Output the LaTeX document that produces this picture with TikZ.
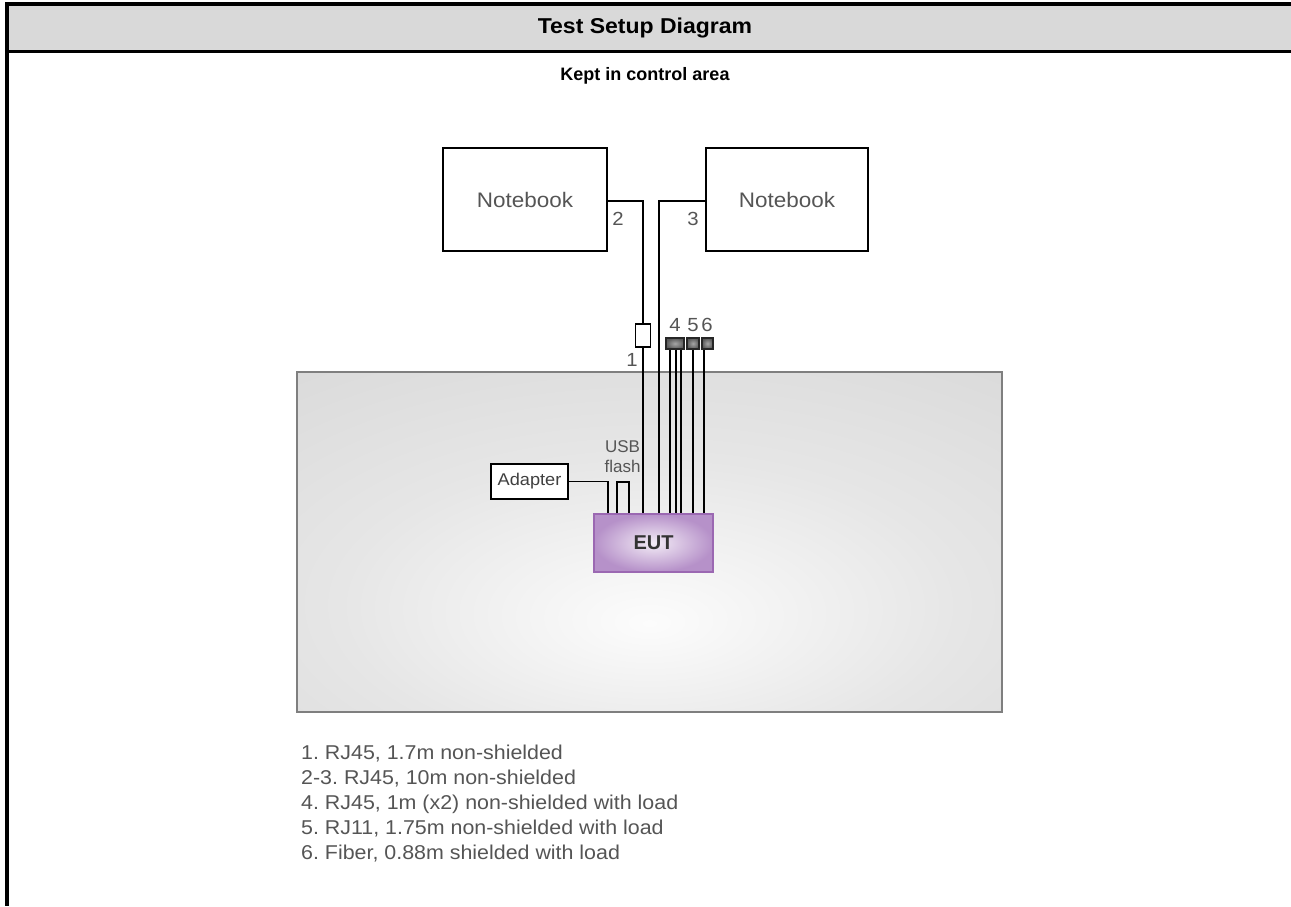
\documentclass[tikz,border=0pt]{standalone}
\usepackage{fontspec}
\setmainfont[FakeStretch=1.07]{Liberation Sans}
\newfontfamily\plainsans{Liberation Sans}
\frenchspacing
\definecolor{hdr}{HTML}{D9D9D9}
\definecolor{txtgray}{HTML}{555555}
\definecolor{eutin}{HTML}{F3ECF6}
\definecolor{eutout}{HTML}{B691C9}
\definecolor{eutborder}{HTML}{9B68B2}
\definecolor{boxborder}{HTML}{7F7F7F}
\definecolor{boxout}{HTML}{D2D2D2}
\definecolor{boxmid}{HTML}{E6E6E6}
\definecolor{boxin}{HTML}{FCFCFC}
\pgfdeclareradialshading{areashade}{\pgfpoint{0bp}{-12bp}}{color(0bp)=(boxin); color(22bp)=(boxmid); color(55bp)=(boxout); color(100bp)=(boxout)}
\begin{document}
\begin{tikzpicture}[x=1pt,y=-1pt,
  cable/.style={draw=black, line width=1.2pt},
  frameline/.style={draw=black},
  nbbox/.style={draw=black, line width=1.2pt, fill=white, minimum height=103pt, inner sep=0pt,
    font=\fontsize{21}{25}\selectfont, text=txtgray},
  plug/.style={draw=black, line width=1.1pt, fill=white, inner sep=0pt, minimum width=15pt, minimum height=23pt},
  darkplug/.style={draw=black!85, line width=1.1pt, shading=radial, inner color=black!35, outer color=black!65,
    inner sep=0pt, minimum height=11pt},
  num/.style={font=\fontsize{19}{22}\selectfont, text=txtgray, inner sep=0pt},
  smalltext/.style={font=\fontsize{17}{20}\selectfont, text=txtgray, inner sep=0pt, align=center}
]
\useasboundingbox (0,0) rectangle (1291,906);
% header frame
\fill[hdr] (9,6) rectangle (1291,50);
\draw[frameline, line width=4pt] (5,4) -- (1291,4);
\draw[frameline, line width=4pt] (7,2) -- (7,906);
\draw[frameline, line width=3pt] (9,51.5) -- (1291,51.5);
\node[font=\bfseries\fontsize{21.5}{25}\selectfont] (title) at (645,28) {Test Setup Diagram};
\node[font=\plainsans\bfseries\fontsize{18}{22}\selectfont] (sub) at (645,76) {Kept in control area};

% control area
\node[draw=boxborder, line width=1.5pt, inner sep=0pt, minimum width=705pt, minimum height=340pt,
  shading=areashade] (area) at (649.5,542) {};

% notebooks
\node[nbbox, minimum width=164pt] (nb1) at (525,199.5) {Notebook};
\node[nbbox, minimum width=162pt] (nb2) at (787,199.5) {Notebook};

% EUT
\node[draw=eutborder, line width=1.2pt, shading=radial, inner color=eutin, outer color=eutout,
  minimum width=119pt, minimum height=58pt, inner sep=0pt,
  font=\plainsans\bfseries\fontsize{20}{24}\selectfont, text=black!80] (eut) at (653.5,543) {EUT};

% adapter
\node[draw=black, line width=1.1pt, fill=white, minimum width=77pt, minimum height=35pt, inner sep=0pt,
  font=\fontsize{17}{20}\selectfont, text=black!75] (adp) at (529.5,481.5) {Adapter};

% plugs
\node[plug] (c1) at (643,335.5) {};
\node[darkplug, minimum width=18pt] (c4) at (675,343.5) {};
\node[darkplug, minimum width=12pt] (c5) at (693,343.5) {};
\node[darkplug, minimum width=11pt] (c6) at (707.5,343.5) {};

% cable labels
\node[num] (l1) at (632,360) {1};
\node[num] (l2) at (618,219) {2};
\node[num] (l3) at (693,219) {3};
\node[num] (l4) at (675,325) {4};
\node[num] (l5) at (693,325) {5};
\node[num] (l6) at (707,325) {6};
\node[smalltext, font=\plainsans\fontsize{17}{20}\selectfont] (usb) at (622.5,457) {USB\\flash};

% cables
\coordinate (j2) at (643,201);
\coordinate (j3) at (659,201);
\draw[cable] ([yshift=-1.5pt]nb1.east) -- (j2) -- (c1.north);
\draw[cable] (c1.south) -- (c1.south |- eut.north);
\draw[cable] ([yshift=-1.5pt]nb2.west) -- (j3) -- (j3 |- eut.north);
\foreach \s in {-5,1,6}{
  \draw[cable] ([xshift=\s pt]c4.south) -- ([xshift=\s pt]c4.south |- eut.north);
}
\draw[cable] (c5.south) -- (c5.south |- eut.north);
\draw[cable] ([xshift=-3.5pt]c6.south) -- ([xshift=-3.5pt]c6.south |- eut.north);
\coordinate (ja) at (608,481.5);
\draw[cable] (adp.east) -- (ja) -- (ja |- eut.north);
\coordinate (u1) at (617,482);
\coordinate (u2) at (629,482);
\draw[cable] (u1 |- eut.north) -- (u1) -- (u2) -- (u2 |- eut.north);

% legend
\node[anchor=north west, align=left, inner sep=0pt, font=\fontsize{20}{25}\selectfont, text=txtgray] (legend) at (301,744.5) {%
1. RJ45, 1.7m non-shielded\\
2-3. RJ45, 10m non-shielded\\
4. RJ45, 1m (x2) non-shielded with load\\
5. RJ11, 1.75m non-shielded with load\\
6. Fiber, 0.88m shielded with load};
\end{tikzpicture}
\end{document}
